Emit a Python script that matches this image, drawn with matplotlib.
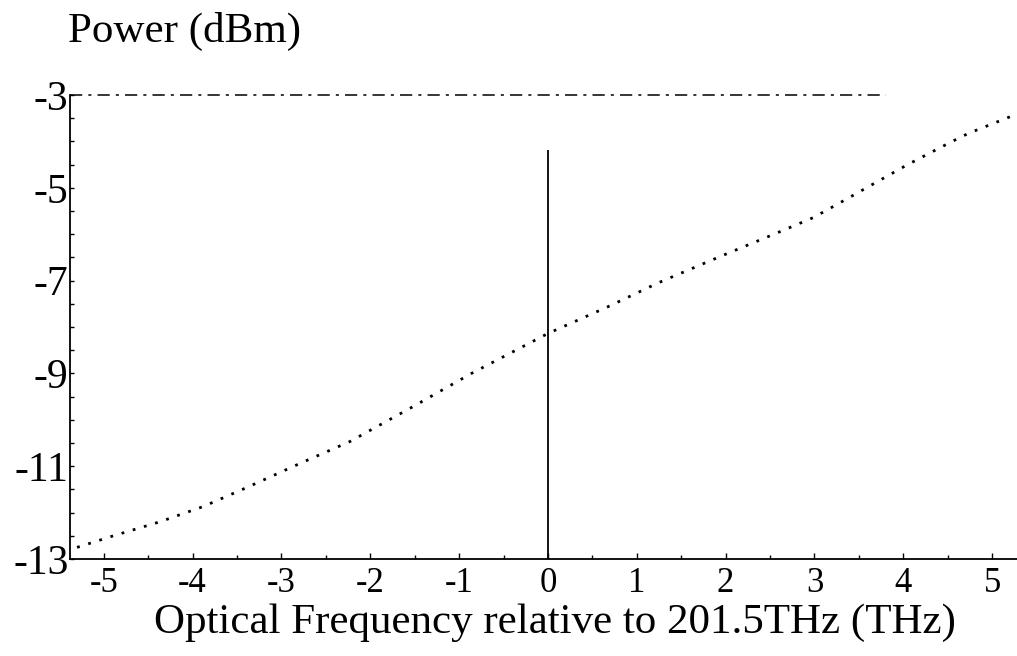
import numpy as np
import matplotlib
matplotlib.use('Agg')
import matplotlib.pyplot as plt
from matplotlib.ticker import MultipleLocator

# power vs optical frequency offset
freq_offset = [-5.30, -4.89, -4.37, -3.88, -3.39, -2.79, -2.23, -1.55, -0.86, 0.0,
               0.68, 1.24, 1.94, 2.57, 2.99, 3.29, 3.66, 4.04, 4.54, 4.73, 5.20]
power_dbm = [-12.75, -12.50, -12.20, -11.87, -11.46, -10.94, -10.47, -9.75, -9.00, -8.14,
             -7.56, -7.05, -6.48, -5.98, -5.64, -5.32, -4.92, -4.51, -4.01, -3.83, -3.47]

marker_freq = 0.0        # vertical line at 201.5 THz
marker_top = -4.19
top_line_end = 3.8       # the broken frame line at -3 dBm stops here

xticks = [-5, -4, -3, -2, -1, 0, 1, 2, 3, 4, 5]
yticks = [-3, -5, -7, -9, -11, -13]

plt.rcParams['font.family'] = ['Liberation Serif', 'DejaVu Serif']

fig = plt.figure(figsize=(10.17, 6.56), dpi=100)
ax = fig.add_axes([0.0688, 0.1479, 0.9312, 0.7073])

ax.plot(freq_offset, power_dbm, color='black', lw=2.0, linestyle=(0, (1, 3.2)),
        dash_capstyle='butt')
ax.vlines(marker_freq, -13, marker_top, color='black', lw=1.3)
ax.plot([-5.38, top_line_end], [-3, -3], color='black', lw=1.1,
        linestyle=(0, (8, 4, 2, 4)), clip_on=False)

ax.set_xlim(-5.38, 5.28)
ax.set_ylim(-13, -3)

for s in ['top', 'right']:
    ax.spines[s].set_visible(False)
ax.spines['left'].set_linewidth(1.3)
ax.spines['bottom'].set_linewidth(1.3)

ax.set_xticks(xticks)
ax.set_xticklabels([str(v) for v in xticks], fontsize=25)
ax.set_yticks(yticks)
ax.set_yticklabels([str(v) for v in yticks], fontsize=30)
ax.xaxis.set_minor_locator(MultipleLocator(0.5))
ax.yaxis.set_minor_locator(MultipleLocator(0.5))
ax.tick_params(axis='x', which='major', direction='in', length=4, width=1, pad=6)
ax.tick_params(axis='y', which='major', direction='in', length=3, width=1, pad=1)
ax.tick_params(which='minor', direction='in', length=3, width=1)

ax.set_xlabel('Optical Frequency relative to 201.5THz (THz)', fontsize=31)
ax.xaxis.set_label_coords(0.512, -0.095)
fig.text(0.067, 0.952, 'Power (dBm)', fontsize=31, ha='left', va='center')

fig.savefig('out.png', dpi=100, facecolor='white')
